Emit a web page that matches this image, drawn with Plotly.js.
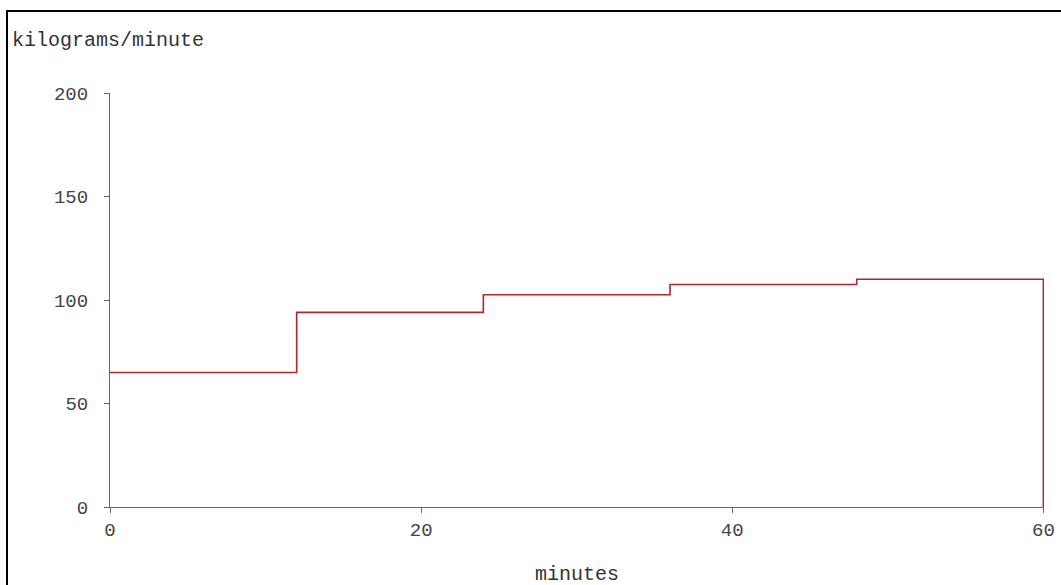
<!DOCTYPE html>
<html>
<head>
<meta charset="utf-8">
<script src="https://cdn.plot.ly/plotly-3.0.1.min.js"></script>
<style>
  html, body { margin: 0; padding: 0; background: #fff; overflow: hidden; }
  #chart { width: 1061px; height: 585px; }
  #frame { position: absolute; left: 6px; top: 10px; width: 2000px; height: 2000px;
           border-left: 2px solid #000; border-top: 2px solid #000; pointer-events: none; }
</style>
</head>
<body>
<div id="chart"></div>
<div id="frame"></div>
<script>
// Step boundaries (minutes) and rate (kilograms/minute)
const minutes = [0, 12, 24, 36, 48, 60, 60];
const rate = [65, 94, 102.5, 107.5, 110, 110, 0];
const xTicks = [0, 20, 40, 60];
const yTicks = [0, 50, 100, 150, 200];
const yTitle = 'kilograms/minute';
const xTitle = 'minutes';

const mono = 'Liberation Mono, Courier New, monospace';

Plotly.newPlot('chart', [{
  x: minutes,
  y: rate,
  type: 'scatter',
  mode: 'lines',
  line: { shape: 'hv', color: '#b3262b', width: 1.6, simplify: false },
  cliponaxis: false,
  hoverinfo: 'skip'
}], {
  width: 1061, height: 585,
  margin: { l: 110, r: 17, t: 93, b: 78 },
  paper_bgcolor: '#fff', plot_bgcolor: '#fff',
  showlegend: false,
  xaxis: {
    range: [0, 60.04], tickvals: xTicks, ticktext: xTicks.map(String),
    showgrid: false, zeroline: false, showline: true, linecolor: '#666', linewidth: 1,
    ticks: 'outside', ticklen: 5, tickcolor: '#666',
    tickfont: { family: mono, size: 19, color: '#444' }
  },
  yaxis: {
    range: [0, 200], tickvals: yTicks, ticktext: yTicks.map(String),
    showgrid: false, zeroline: false, showline: true, linecolor: '#666', linewidth: 1,
    ticks: 'outside', ticklen: 5, tickcolor: '#666', ticklabelstandoff: 12,
    tickfont: { family: mono, size: 19, color: '#444' }
  },
  annotations: [
    { text: yTitle, xref: 'paper', yref: 'paper', x: -0.107, y: 1.126,
      xanchor: 'left', yanchor: 'middle', showarrow: false,
      font: { family: mono, size: 20, color: '#333' } },
    { text: xTitle, xref: 'paper', yref: 'paper', x: 0.5, y: -0.162,
      xanchor: 'center', yanchor: 'middle', showarrow: false,
      font: { family: mono, size: 20, color: '#333' } }
  ]
}, { staticPlot: true, displayModeBar: false });
</script>
</body>
</html>
